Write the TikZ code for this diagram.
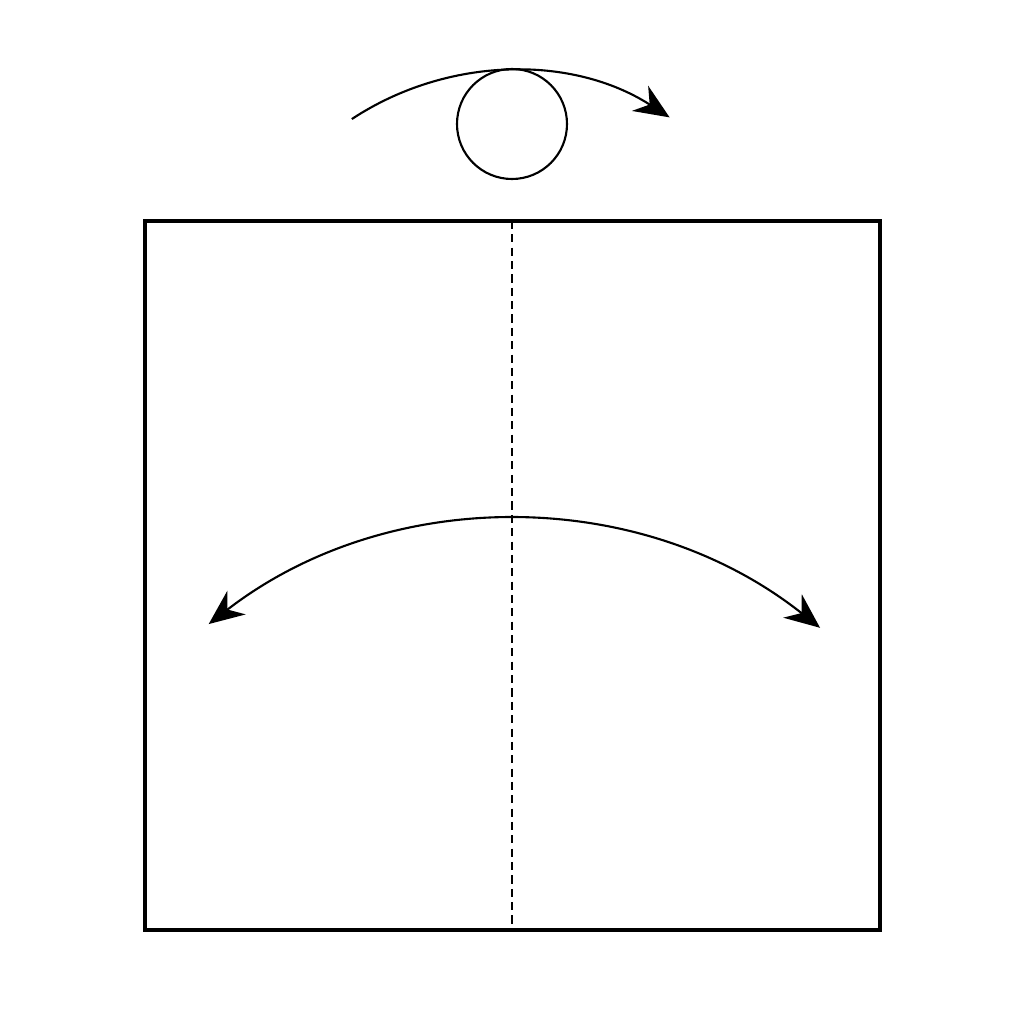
\documentclass[tikz,border=0pt]{standalone}
\usepackage{tikz}
\usetikzlibrary{calc}
\usetikzlibrary{arrows.meta}

\begin{document}
\begin{tikzpicture}[scale=1]
		\useasboundingbox (0,0) rectangle (10.24,10.24);
		% paper
		\coordinate (A) at (1.45,0.94);
		\coordinate (B) at (8.80,0.94);
		\coordinate (C) at (8.80,8.03);
		\coordinate (D) at (1.45,8.03);
		\coordinate (M) at (5.12,8.03);
		\coordinate (N) at (5.12,0.94);
		\draw [line width=0.9pt] (A) -- (B) -- (C) -- (D) -- cycle;
		\draw [line width=0.45pt,dash pattern=on 2.3pt off 1.5pt] (M) -- (N);
		% turn over
		\coordinate (O) at (5.12,9.00);
		\draw [line width=0.6pt] (O) circle (0.55);
		\coordinate (P) at (5.12,6.62);
		\draw [line width=0.6pt,-{Stealth[length=10pt,width=8.5pt]}] ($(P)+(123.4:2.91)$) arc (123.4:57.2:2.91);
		% valley fold and unfold
		\coordinate (Q) at (5.12,0.075);
		\draw [line width=0.6pt,{Stealth[length=10pt,width=8.5pt]}-{Stealth[length=10pt,width=8.5pt]}] ($(Q)+(127.7:4.96)$) arc (127.7:51.6:4.96);
\end{tikzpicture}
\end{document}
